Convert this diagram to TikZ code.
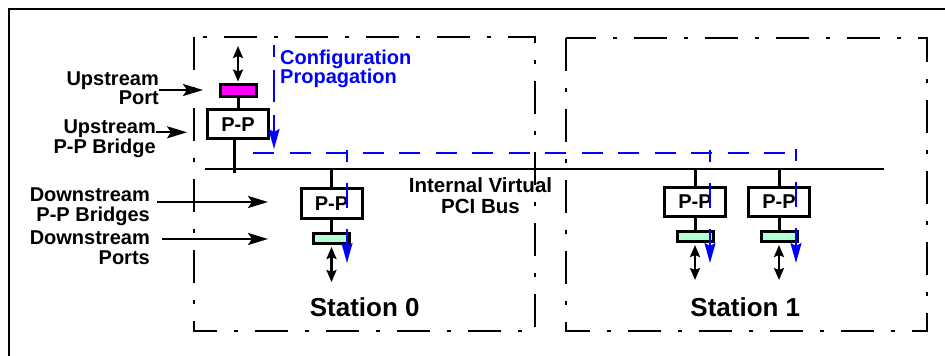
\documentclass[tikz,border=0pt]{standalone}
\usepackage{fontspec}
\setmainfont{Liberation Sans}
\usetikzlibrary{arrows.meta}
\definecolor{portmag}{RGB}{255,0,255}
\definecolor{portgrn}{RGB}{178,255,214}
\definecolor{cfgblue}{RGB}{0,0,255}
\tikzset{
  lbl/.style={font=\fontsize{20}{19.5}\selectfont\bfseries, inner sep=0pt},
  ppbox/.style={draw, line width=3pt, fill=white, minimum width=61pt, minimum height=29.5pt,
    inner sep=0pt, font=\fontsize{20}{20}\selectfont\bfseries},
  uportbox/.style={draw, line width=3pt, fill=portmag, minimum width=36pt, minimum height=12pt, inner sep=0pt},
  dportbox/.style={draw, line width=3pt, fill=portgrn, minimum width=36pt, minimum height=10pt, inner sep=0pt},
  stationbox/.style={line width=2.3pt, dash pattern=on 33pt off 17pt on 4pt off 17pt},
  frameline/.style={line width=2.6pt},
  busline/.style={line width=2.6pt},
  wire/.style={line width=3pt},
  lblarrow/.style={line width=2.2pt, -{Stealth[length=20pt,width=12pt,inset=4pt]}},
  dblarrow/.style={line width=2.2pt, {Stealth[length=12pt,width=10pt,inset=2pt]}-{Stealth[length=12pt,width=10pt,inset=2pt]}},
  cfgline/.style={cfgblue, line width=2.2pt},
  cfgarrow/.style={-{Stealth[length=20pt,width=11pt,inset=3pt]}},
  stationlbl/.style={font=\fontsize{26}{26}\selectfont\bfseries, inner sep=0pt, anchor=base}
}
\begin{document}
\begin{tikzpicture}[x=1pt,y=-1pt]
\useasboundingbox (0,0) rectangle (945,356);

% outer frame (only top and left visible)
\draw[frameline] (9,356) -- (9,9) -- (945,9);

% text of the bus (anchor = baseline of the last line)
\node[lbl, align=center, anchor=base, font=\fontsize{20.5}{21}\selectfont\bfseries] (buslbl) at (480.5,213.3) {Internal Virtual\\PCI Bus};

% stations
\draw[stationbox] (194,37) rectangle (535,331);
\draw[stationbox] (566,38) rectangle (927,331);
\node[stationlbl] (st0) at (364.7,316.7) {Station 0};
\node[stationlbl] (st1) at (745.3,316.7) {Station 1};

% bus
\coordinate (busL) at (205,169);
\coordinate (busR) at (884,169);
\draw[busline] (busL) -- (busR);

% upstream side
\node[uportbox] (uport) at (238,90) {};
\node[ppbox] (ubr) at (238,124.2) {P-P};
\coordinate (utap) at (234,173);
\coordinate (uext) at (238,46);
\draw[wire] (uport) -- (ubr);
\draw[wire] (ubr.south -| utap) -- (utap);
\draw[dblarrow, shorten >=1pt] (uext) -- (uport.north);

% downstream, station 0
\node[ppbox] (d0) at (331.5,203.5) {P-P};
\node[dportbox] (p0) at (331.5,238) {};
\coordinate (e0) at (331.5,282);
\draw[wire] (d0.north |- busL) -- (d0.north);
\draw[wire] (d0) -- (p0);
\draw[dblarrow, shorten <=2.5pt] (p0.south) -- (e0);

% downstream, station 1
\node[ppbox] (d1) at (695,202) {P-P};
\node[dportbox] (p1) at (695,236) {};
\coordinate (e1) at (695,280);
\draw[wire] (d1.north |- busL) -- (d1.north);
\draw[wire] (d1) -- (p1);
\draw[dblarrow, shorten <=2.5pt] (p1.south) -- (e1);

\node[ppbox] (d2) at (779,202) {P-P};
\node[dportbox] (p2) at (779,236) {};
\coordinate (e2) at (779,280);
\draw[wire] (d2.north |- busL) -- (d2.north);
\draw[wire] (d2) -- (p2);
\draw[dblarrow, shorten <=2.5pt] (p2.south) -- (e2);

% configuration propagation (blue)
\node[lbl, align=left, anchor=base west, text=cfgblue] (cfglbl) at (280,83.5) {Configuration\\Propagation};
\coordinate (cfgtop) at (274,45);
\coordinate (cfgbot) at (274,149);
\coordinate (hL) at (253,153);
\coordinate (hR) at (797,153);
\coordinate (t0) at (347,150);
\coordinate (b0) at (347,263);
\coordinate (t1) at (710,150);
\coordinate (b1) at (710,263);
\coordinate (t2) at (796,149);
\coordinate (b2) at (796,263);
\draw[cfgline, cfgarrow, dash pattern=on 32pt off 13pt, dash phase=20pt] (cfgtop) -- (cfgbot);
\draw[cfgline, dash pattern=on 21pt off 15.5pt] (hL) -- (hR);
\draw[cfgline, cfgarrow, dash pattern=on 25pt off 21pt, dash phase=13pt] (t0) -- (b0);
\draw[cfgline, cfgarrow, dash pattern=on 25pt off 21pt, dash phase=13pt] (t1) -- (b1);
\draw[cfgline, cfgarrow, dash pattern=on 25pt off 21pt, dash phase=13pt] (t2) -- (b2);

% side labels (anchor = baseline of the last line)
\node[lbl, align=right, anchor=base east] (lab1) at (159,104.5) {Upstream\\Port};
\node[lbl, align=right, anchor=base east] (lab2) at (156,153) {Upstream\\P-P Bridge};
\node[lbl, align=right, anchor=base east] (lab3) at (150,221) {Downstream\\P-P Bridges};
\node[lbl, align=right, anchor=base east] (lab4) at (150,264) {Downstream\\Ports};
\coordinate (tip1) at (203,90);
\coordinate (tip2) at (187,132.3);
\coordinate (tip3) at (268,202);
\coordinate (tip4) at (268,239);
\draw[lblarrow] (lab1.east |- tip1) -- (tip1);
\draw[lblarrow] (lab2.east |- tip2) -- (tip2);
\draw[lblarrow, shorten <=7pt] (lab3.east |- tip3) -- (tip3);
\draw[lblarrow, shorten <=12pt] (lab4.east |- tip4) -- (tip4);
\end{tikzpicture}
\end{document}
